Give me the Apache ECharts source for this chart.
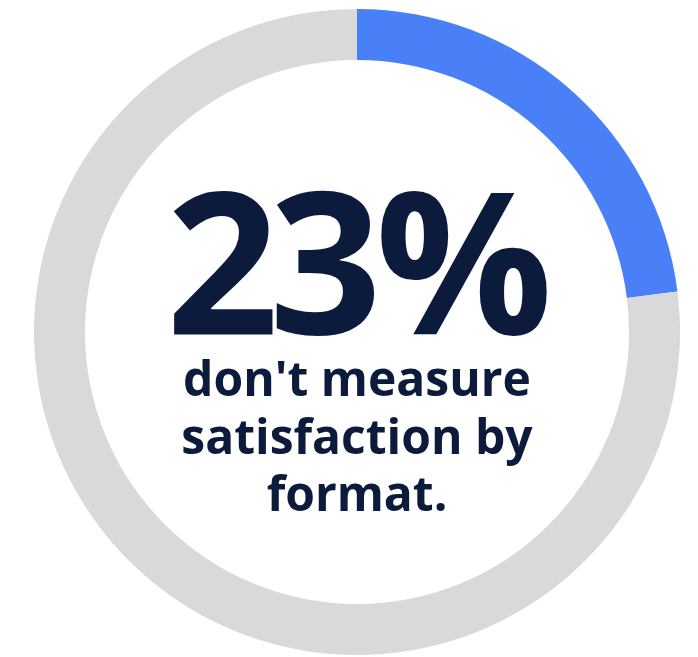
<!DOCTYPE html>
<html>
<head>
<meta charset="utf-8">
<script src="https://cdn.jsdelivr.net/npm/echarts@6/dist/echarts.min.js"></script>
<style>
  html, body { margin: 0; padding: 0; background: #ffffff; }
  #chart { width: 698px; height: 657px; }
</style>
</head>
<body>
<div id="chart"></div>
<script>
// Share of respondents, in percent
const categories = ["Don't measure by format", "Measure by format"];
const shareValues = [23, 77];
const headline = "23%";
const captionLines = ["don't measure", "satisfaction by", "format."];

const colors = ['#4a80f7', '#d9d9d9'];
const textColor = '#0c1a3b';

const cx = 357, cy = 332;

// Headline is set glyph by glyph so it can be kerned tightly
const headlineGlyphX = [222.5, 325.5, 464];
const headlineGraphics = headline.split('').map((ch, i) => ({
  type: 'text',
  x: headlineGlyphX[i],
  y: 179,
  style: {
    text: ch,
    fill: textColor,
    font: '700 197px "Open Sans"',
    align: 'center',
    verticalAlign: 'top'
  }
}));

const chart = echarts.init(document.getElementById('chart'), null, { renderer: 'canvas' });

chart.setOption({
  backgroundColor: '#ffffff',
  animation: false,
  series: [{
    type: 'pie',
    center: [cx, cy],
    radius: [272, 323],
    startAngle: 90,
    clockwise: true,
    silent: true,
    label: { show: false },
    labelLine: { show: false },
    data: categories.map((name, i) => ({
      name,
      value: shareValues[i],
      itemStyle: { color: colors[i] }
    }))
  }],
  graphic: headlineGraphics.concat([
    {
      type: 'text',
      x: cx,
      y: 354,
      style: {
        text: captionLines.join('\n'),
        fill: textColor,
        font: '700 48px "Open Sans"',
        lineHeight: 57.5,
        align: 'center',
        verticalAlign: 'top'
      }
    }
  ])
});
</script>
</body>
</html>
